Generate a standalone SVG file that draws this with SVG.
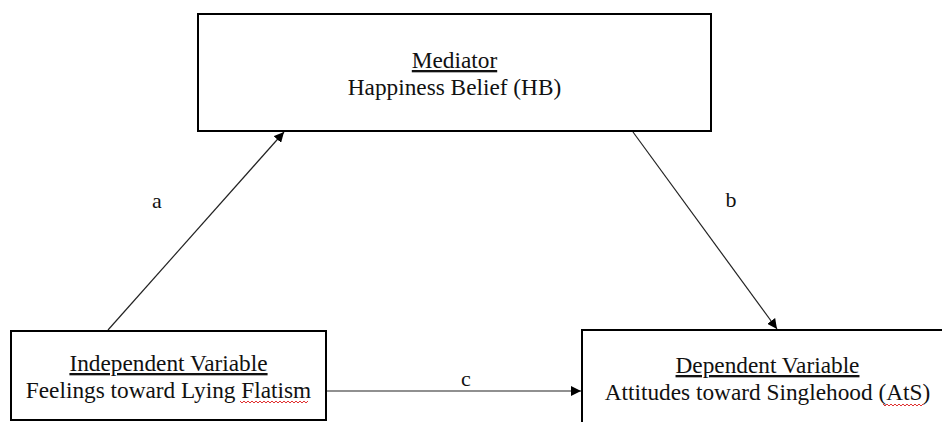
<svg xmlns="http://www.w3.org/2000/svg" width="942" height="422" viewBox="0 0 942 422">
<defs>
<style>
.box{fill:#fff;stroke:#000;stroke-width:2}
.t{font-family:"Liberation Serif","Times New Roman",serif;font-size:23.3px;fill:#111;text-anchor:middle}
.u{text-decoration:underline}
.lbl{font-family:"Liberation Serif","Times New Roman",serif;font-size:22px;fill:#111;text-anchor:middle}
.con{stroke:#222;stroke-width:1.2;fill:none;marker-end:url(#ah)}
.wave{stroke:#e03030;stroke-width:1;fill:none}
</style>
<marker id="ah" viewBox="0 0 10 10" refX="10" refY="5" markerWidth="10" markerHeight="10" markerUnits="userSpaceOnUse" orient="auto">
<path d="M0,0 L10,5 L0,10 z" fill="#000"/>
</marker>
</defs>
<rect width="942" height="422" fill="#fff"/>
<g id="connectors">
<line class="con" x1="108" y1="330" x2="284" y2="132"/>
<line class="con" x1="633" y1="132" x2="777" y2="329"/>
<line class="con" x1="326" y1="391" x2="581" y2="391"/>
<text class="lbl" x="157" y="208">a</text>
<text class="lbl" x="731" y="207">b</text>
<text class="lbl" x="466" y="386">c</text>
</g>
<g id="mediator">
<rect class="box" x="198" y="14" width="513" height="117"/>
<text class="t u" x="454.5" y="68">Mediator</text>
<text class="t" x="454.5" y="95">Happiness Belief (HB)</text>
</g>
<g id="independent">
<rect class="box" x="11" y="331" width="315" height="89"/>
<text class="t u" x="168.5" y="371">Independent Variable</text>
<text class="t" x="168.5" y="398">Feelings toward Lying Flatism</text>
<path class="wave" d="M240,401 l2,2 l2,-2 l2,2 l2,-2 l2,2 l2,-2 l2,2 l2,-2 l2,2 l2,-2 l2,2 l2,-2 l2,2 l2,-2 l2,2 l2,-2 l2,2 l2,-2 l2,2 l2,-2 l2,2 l2,-2 l2,2 l2,-2 l2,2 l2,-2 l2,2 l2,-2 l2,2 l2,-2 l2,2 l2,-2 l2,2 l2,-2"/>
</g>
<g id="dependent">
<rect class="box" x="582" y="330" width="371" height="100"/>
<text class="t u" x="767.5" y="373">Dependent Variable</text>
<text class="t" x="767.5" y="400">Attitudes toward Singlehood (AtS)</text>
<path class="wave" d="M883,404 l2,2 l2,-2 l2,2 l2,-2 l2,2 l2,-2 l2,2 l2,-2 l2,2 l2,-2 l2,2 l2,-2 l2,2 l2,-2 l2,2 l2,-2 l2,2 l2,-2 l2,2 l2,-2"/>
</g>
</svg>
